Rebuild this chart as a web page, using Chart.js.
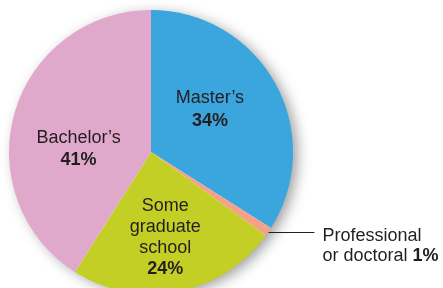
<!DOCTYPE html>
<html>
<head>
<meta charset="utf-8">
<script src="https://cdn.jsdelivr.net/npm/chart.js@4/dist/chart.umd.min.js"></script>
<style>
  html, body { margin: 0; padding: 0; background: #fff; overflow: hidden; }
  #wrap { width: 443px; height: 300px; }
</style>
</head>
<body>
<div id="wrap"><canvas id="pieChart" width="443" height="300"></canvas></div>
<script>
// Degree held, share of respondents (%)
const categories = ["Master's", 'Professional or doctoral', 'Some graduate school', "Bachelor's"];
const shares = [34, 1, 24, 41];
const sliceColors = ['#3ba5dd', '#f5a18a', '#c4cf26', '#e0a9cb'];

const FONT = '"Liberation Sans", Arial, Helvetica, sans-serif';
const TEXT = '#231f20';
const SIZE = 18;

// label lines per slice: [text, bold]
const labelLines = [
  [[["Master’s", false]], [['34%', true]]],
  [[['Professional', false]], [['or doctoral ', false], ['1%', true]]],
  [[['Some', false]], [['graduate', false]], [['school', false]], [['24%', true]]],
  [[["Bachelor’s", false]], [['41%', true]]]
];

// soft shadow under the whole pie
const pieShadow = {
  id: 'pieShadow',
  beforeDatasetsDraw(chart) {
    const arc = chart.getDatasetMeta(0).data[0];
    if (!arc) return;
    const ctx = chart.ctx;
    ctx.save();
    ctx.shadowColor = 'rgba(0,0,0,0.4)';
    ctx.shadowBlur = 14;
    ctx.shadowOffsetX = 5;
    ctx.shadowOffsetY = 3;
    ctx.fillStyle = '#ffffff';
    ctx.beginPath();
    ctx.arc(arc.x, arc.y, arc.outerRadius - 1, 0, Math.PI * 2);
    ctx.fill();
    ctx.restore();
  }
};

function drawLine(ctx, parts, x, y, align) {
  const widths = parts.map(([t, b]) => {
    ctx.font = (b ? 'bold ' : '') + SIZE + 'px ' + FONT;
    return ctx.measureText(t).width;
  });
  const total = widths.reduce((a, b) => a + b, 0);
  let cx = align === 'center' ? x - total / 2 : x;
  parts.forEach(([t, b], i) => {
    ctx.font = (b ? 'bold ' : '') + SIZE + 'px ' + FONT;
    ctx.fillText(t, cx, y);
    cx += widths[i];
  });
}

const sliceLabels = {
  id: 'sliceLabels',
  afterDatasetsDraw(chart) {
    const ctx = chart.ctx;
    const arcs = chart.getDatasetMeta(0).data;
    const c = arcs[0];
    const r = c.outerRadius;
    ctx.save();
    ctx.fillStyle = TEXT;
    ctx.textAlign = 'left';
    ctx.textBaseline = 'alphabetic';

    // anchors relative to the pie centre, in units of the radius
    const anchors = [
      { fx: 0.415, fy: -0.345, step: 23 },
      null,
      { fx: 0.10, fy: 0.415, step: 21 },
      { fx: -0.51, fy: -0.065, step: 22 }
    ];
    anchors.forEach((a, i) => {
      if (!a) return;
      const x = c.x + a.fx * r;
      let y = c.y + a.fy * r;
      labelLines[i].forEach(parts => {
        drawLine(ctx, parts, x, y, 'center');
        y += a.step;
      });
    });

    // leader line for the thin slice
    const p = arcs[1];
    const mid = (p.startAngle + p.endAngle) / 2;
    const ex = p.x + Math.cos(mid) * p.outerRadius;
    const ey = p.y + Math.sin(mid) * p.outerRadius;
    ctx.strokeStyle = '#231f20';
    ctx.lineWidth = 1;
    ctx.beginPath();
    ctx.moveTo(ex, Math.round(ey) + 0.5);
    ctx.lineTo(ex + 46, Math.round(ey) + 0.5);
    ctx.stroke();
    let ly = ey + 9;
    labelLines[1].forEach(parts => {
      drawLine(ctx, parts, ex + 54, ly, 'left');
      ly += 20;
    });
    ctx.restore();
  }
};

new Chart(document.getElementById('pieChart'), {
  type: 'pie',
  data: {
    labels: categories,
    datasets: [{
      data: shares,
      backgroundColor: sliceColors,
      borderWidth: 0
    }]
  },
  options: {
    responsive: false,
    animation: false,
    layout: { padding: { left: 9, right: 150, top: 10, bottom: 6 } },
    plugins: {
      legend: { display: false },
      tooltip: { enabled: false }
    }
  },
  plugins: [pieShadow, sliceLabels]
});
</script>
</body>
</html>
